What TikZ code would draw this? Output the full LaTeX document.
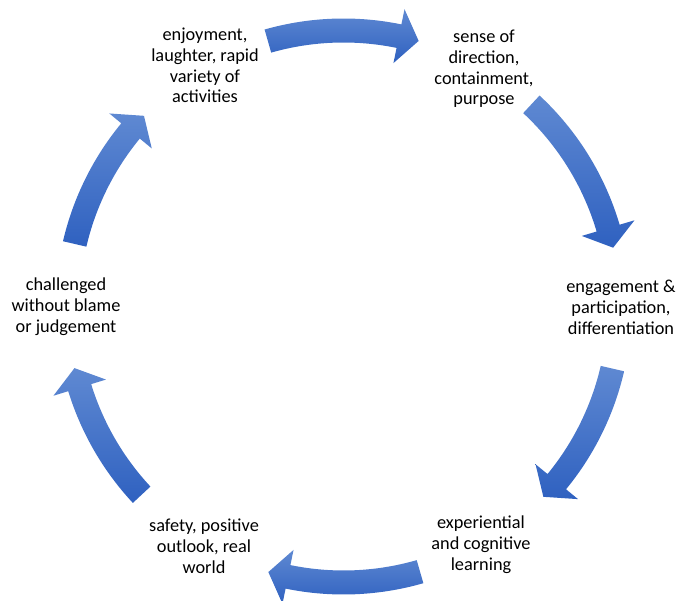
\documentclass[tikz,border=0pt]{standalone}
\usepackage{fontspec}
\setmainfont{Carlito}

\definecolor{arrowtop}{RGB}{95,137,210}
\definecolor{arrowbottom}{RGB}{47,97,192}

\begin{document}
\begin{tikzpicture}[x=1pt, y=1pt,
    steptext/.style={align=center, inner sep=0pt, font=\fontsize{18.3}{20.8}\selectfont},
    cyclearrow/.style={top color=arrowtop, bottom color=arrowbottom, draw=none}]
            \useasboundingbox (-343.5,-294.5) rectangle (333.5,306.5);

            \node[steptext] (fun) at (-138.5,241) {enjoyment,\\laughter, rapid\\variety of\\activities};
            \node[steptext] (purpose) at (140.5,237.5) {sense of\\direction,\\containment,\\purpose};
            \node[steptext] (engage) at (277.5,-1) {engagement \&\\participation,\\differentiation};
            \node[steptext] (learn) at (137.5,-238) {experiential\\and cognitive\\learning};
            \node[steptext] (safety) at (-139.5,-240) {safety, positive\\outlook, real\\world};
            \node[steptext] (challenge) at (-277.5,0) {challenged\\without blame\\or judgement};

            % tail angle / tip angle of each arrow
            \foreach \a/\b in {105.9/74.2, 47.1/12.3, -13/-43.6, -73.9/-105.8, 223/192.9, 166.9/136.3} {
                \shade[cyclearrow] (\a:288pt) arc[start angle=\a, end angle=\b+4.2, radius=288pt]
                    -- (\b+4.2:303.5pt) -- (\b:276pt) -- (\b+4.2:248.5pt) -- (\b+4.2:264pt)
                    arc[start angle=\b+4.2, end angle=\a, radius=264pt] -- cycle;
            }
        \end{tikzpicture}
\end{document}
